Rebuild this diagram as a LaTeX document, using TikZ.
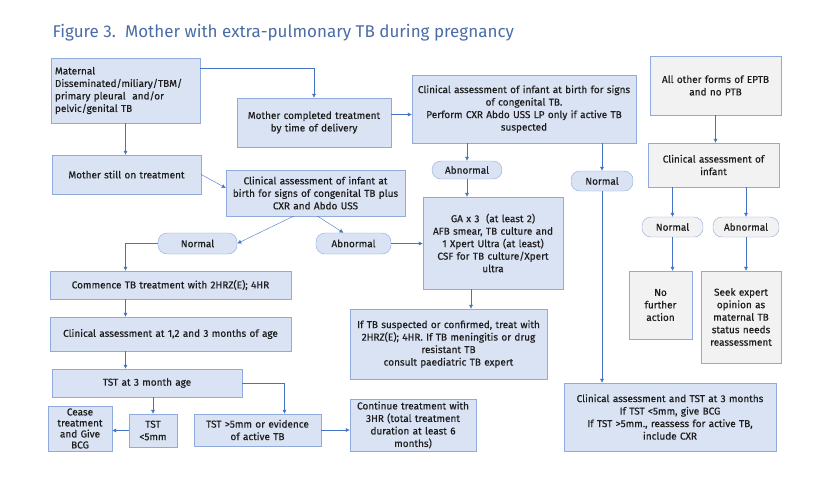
\documentclass[tikz,border=0pt]{standalone}
\usepackage{fontspec}
\setmainfont{Fira Sans}
\usetikzlibrary{positioning,shapes,arrows.meta,calc}
\definecolor{boxblue}{HTML}{DAE3F3}
\definecolor{boxgrey}{HTML}{F2F2F2}
\definecolor{edgeblue}{HTML}{8FAADC}
\definecolor{arrowblue}{HTML}{4472C4}
\definecolor{titleblue}{HTML}{4A6DA7}
\definecolor{ink}{HTML}{1E1E1E}
\tikzset{
  box/.style={draw=edgeblue, fill=boxblue, inner sep=0pt, align=center, text=ink,
    font=\fontsize{10}{12.5}\selectfont\addfontfeatures{FakeBold=0.4}},
  greybox/.style={box, fill=boxgrey},
  pill/.style={box, rounded corners=9pt},
  greypill/.style={greybox, rounded corners=9pt},
  flow/.style={draw=arrowblue, -{Latex[length=4pt,width=4pt]}}
}

\begin{document}
\begin{tikzpicture}[x=1pt,y=-1pt]
      \useasboundingbox[fill=white] (0,0) rectangle (840,480);
      \node[anchor=west, text=titleblue, font=\fontsize{17}{20}\selectfont] (title) at (49,33)
        {Figure 3.\ \ Mother with extra-pulmonary TB during pregnancy};
      % left branch
      \node[box, minimum width=149, minimum height=65, text width=141, align=left] (mat) at (125.5,90.5)
        {Maternal\\Disseminated/miliary/TBM/\\primary pleural \ and/or\\pelvic/genital TB};
      \node[box, minimum width=154, minimum height=49, text width=150] (mcomp) at (314,122.5)
        {Mother completed treatment\\by time of delivery};
      \node[box, minimum width=149, minimum height=39, text width=145] (still) at (126.5,174.5)
        {Mother still on treatment};
      \node[box, minimum width=179, minimum height=46, text width=177] (birthcxr) at (315.5,193)
        {Clinical assessment of infant at\\birth for signs of congenital TB plus\\CXR and Abdo USS};
      \node[pill, minimum width=79, minimum height=21] (norm2) at (197.5,243.5) {Normal};
      \node[pill, minimum width=75, minimum height=21] (abn2) at (353.5,243.5) {Abnormal};
      \node[box, minimum width=241, minimum height=28, text width=233] (comm) at (170.5,285)
        {Commence TB treatment with 2HRZ(E); 4HR};
      \node[box, minimum width=241, minimum height=34, text width=233] (month) at (170.5,334)
        {Clinical assessment at 1,2 and 3 months of age};
      \node[box, minimum width=190, minimum height=28, text width=182] (tst) at (147,383)
        {TST at 3 month age};
      \node[box, minimum width=48, minimum height=33, text width=46] (tstlow) at (153,430.5)
        {TST\\<5mm};
      \node[box, minimum width=64, minimum height=45, text width=62,
        font=\fontsize{10}{11}\selectfont\addfontfeatures{FakeBold=0.4}] (cease) at (80,428.5)
        {Cease\\treatment\\and Give\\BCG};
      \node[box, minimum width=127, minimum height=32, text width=125] (tsthigh) at (257.5,430)
        {TST >5mm or evidence\\of active TB};
      \node[box, minimum width=126, minimum height=52, text width=124] (cont) at (413,425)
        {Continue treatment with\\3HR (total treatment\\duration at least 6\\months)};
      % middle branch
      \node[box, minimum width=224, minimum height=68, text width=222] (birth) at (524,109)
        {Clinical assessment of infant at birth for signs\\of congenital TB.\\Perform CXR Abdo USS LP only if active TB\\suspected};
      \node[pill, minimum width=70, minimum height=18] (abn1) at (467,170) {Abnormal};
      \node[pill, minimum width=62, minimum height=20] (norm1) at (602,181) {Normal};
      \node[box, minimum width=140, minimum height=92, text width=138] (ga) at (493,243)
        {GA x 3 \ (at least 2)\\AFB smear, TB culture and\\1 Xpert Ultra (at least)\\CSF for TB culture/Xpert\\ultra};
      \node[box, minimum width=197, minimum height=70, text width=195] (treat) at (448.5,344)
        {If TB suspected or confirmed, treat with\\2HRZ(E); 4HR. If TB meningitis or drug\\resistant TB\\consult paediatric TB expert};
      \node[box, minimum width=212, minimum height=68, text width=210] (final) at (670,417)
        {Clinical assessment and TST at 3 months\\If TST <5mm, give BCG\\If TST >5mm., reassess for active TB,\\include CXR};
      % right branch
      \node[greybox, minimum width=131, minimum height=59, text width=129] (eptb) at (715.5,85.5)
        {All other forms of EPTB\\and no PTB};
      \node[greybox, minimum width=131, minimum height=44, text width=129] (infant) at (713.5,165)
        {Clinical assessment of\\infant};
      \node[greypill, minimum width=61, minimum height=20] (norm3) at (672.5,227) {Normal};
      \node[greypill, minimum width=66, minimum height=20] (abn3) at (746,227) {Abnormal};
      \node[greybox, minimum width=63, minimum height=68, text width=61] (noact) at (660.5,305)
        {No\\further\\action};
      \node[greybox, minimum width=80, minimum height=92, text width=78] (seek) at (741,317)
        {Seek expert\\opinion as\\maternal TB\\status needs\\reassessment};
      % connectors
      \draw[flow] ($(mat.north east)+(0,10)$) -| (mcomp.north);
      \draw[flow] (mat.south) -- (mat.south |- still.north);
      \draw[flow] ([yshift=8pt]mcomp.east) -- ([yshift=8pt]mcomp.east -| birth.west);
      \draw[flow] (still.east) -- ([yshift=5pt]birthcxr.west);
      \draw[flow] ([xshift=-22pt]birthcxr.south) -- (norm2.east);
      \draw[flow] ([xshift=2pt]birthcxr.south) -- ([xshift=-10pt]abn2.north);
      \draw[flow] (norm2.west) -| (mat.south |- comm.north);
      \draw[flow] (mat.south |- comm.south) -- (mat.south |- month.north);
      \draw[flow] (mat.south |- month.south) -- (mat.south |- tst.north);
      \draw[flow] (tstlow.north |- tst.south) -- (tstlow.north);
      \draw[flow] (tstlow.west) -- (cease.east |- tstlow.west);
      \draw[flow] (tst.east) -| ([xshift=27pt]tsthigh.north);
      \draw[flow] (tsthigh.east) -- (cont.west |- tsthigh.east);
      \draw[flow] (abn2.east) -- (ga.west |- abn2.east);
      \draw[flow] (abn1.north |- birth.south) -- (abn1.north);
      \draw[flow] (abn1.south) -- (abn1.south |- ga.north);
      \draw[flow] (norm1.north |- birth.south) -- (norm1.north);
      \draw[flow] (norm1.south) -- (norm1.south |- final.north);
      \draw[flow] ([xshift=-22pt]ga.south) -- ([xshift=-22pt]ga.south |- treat.north);
      \draw[flow] (eptb.south) -- (eptb.south |- infant.north);
      \draw[flow] (norm3.north |- infant.south) -- (norm3.north);
      \draw[flow] (abn3.north |- infant.south) -- (abn3.north);
      \draw[flow] (norm3.south) -- (norm3.south |- noact.north);
      \draw[flow] (abn3.south) -- (abn3.south |- seek.north);
\end{tikzpicture}
\end{document}
